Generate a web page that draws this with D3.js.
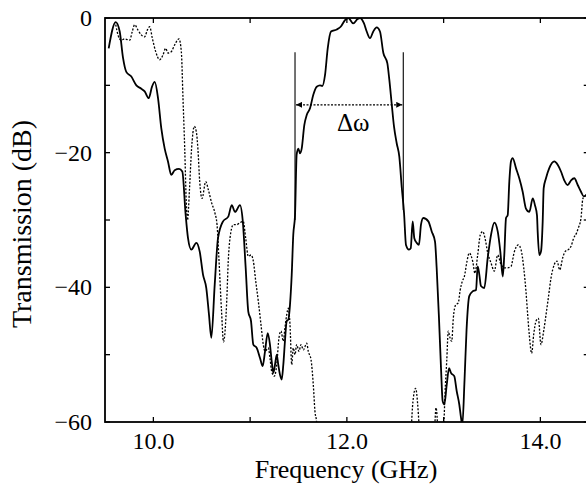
<!DOCTYPE html>
<html>
<head>
<meta charset="utf-8">
<script src="https://cdn.jsdelivr.net/npm/d3@7"></script>
<style>
  body { margin: 0; background: #fff; }
</style>
</head>
<body>
<div id="chart"></div>
<script>
// measured transmission, solid trace
var solidFreq = [9.538, 9.611, 9.652, 9.686, 9.720, 9.772, 9.824, 9.875, 9.910, 9.952,
  9.986, 10.014, 10.048, 10.082, 10.117, 10.151, 10.185, 10.220, 10.265, 10.299,
  10.334, 10.358, 10.392, 10.444, 10.479, 10.513, 10.547, 10.575, 10.599, 10.634,
  10.668, 10.720, 10.774, 10.810, 10.844, 10.895, 10.923, 10.954, 10.981, 11.009,
  11.033, 11.068, 11.102, 11.130, 11.154, 11.182, 11.205, 11.223, 11.240, 11.257,
  11.275, 11.291, 11.309, 11.326, 11.343, 11.360, 11.378, 11.395, 11.412, 11.430,
  11.446, 11.464, 11.481, 11.498, 11.516, 11.533, 11.560, 11.585, 11.619, 11.653,
  11.688, 11.722, 11.746, 11.774, 11.802, 11.836, 11.895, 11.936, 11.981, 12.015,
  12.066, 12.108, 12.136, 12.177, 12.205, 12.239, 12.273, 12.308, 12.342, 12.377,
  12.418, 12.439, 12.463, 12.487, 12.515, 12.542, 12.567, 12.591, 12.611, 12.642,
  12.660, 12.680, 12.697, 12.722, 12.745, 12.766, 12.790, 12.842, 12.877, 12.911,
  12.928, 12.952, 12.973, 12.990, 13.007, 13.032, 13.056, 13.076, 13.110, 13.135,
  13.162, 13.180, 13.193, 13.216, 13.237, 13.265, 13.300, 13.335, 13.352, 13.369,
  13.386, 13.420, 13.456, 13.490, 13.524, 13.559, 13.586, 13.611, 13.627, 13.645,
  13.662, 13.679, 13.696, 13.714, 13.748, 13.782, 13.817, 13.851, 13.886, 13.921,
  13.944, 13.965, 13.972, 13.989, 14.006, 14.024, 14.034, 14.058, 14.092, 14.144,
  14.179, 14.213, 14.247, 14.282, 14.317, 14.351, 14.386, 14.420, 14.448, 14.472, 14.503];
var solidDb = [-4.5, -0.6, -2.0, -5.9, -8.0, -8.7, -10.0, -10.5, -10.9, -11.9,
  -10.2, -9.5, -11.9, -16.4, -19.4, -21.3, -23.3, -22.6, -22.4, -22.8,
  -29.3, -32.7, -34.4, -33.4, -34.7, -38.1, -40.1, -44.1, -47.5, -39.6,
  -32.7, -30.2, -29.5, -27.8, -28.8, -27.8, -30.0, -37.1, -43.6, -45.0,
  -48.5, -49.0, -50.5, -51.7, -49.5, -46.8, -48.5, -51.0, -52.7, -51.5,
  -50.0, -51.5, -53.0, -53.7, -51.5, -48.0, -45.0, -44.8, -42.6, -38.1,
  -32.2, -29.3, -20.3, -19.4, -20.1, -19.4, -15.9, -14.4, -13.4, -11.4,
  -10.2, -10.0, -10.1, -8.5, -4.5, -2.0, -1.7, -1.3, -0.3, 0.0,
  -0.8, -0.2, 0.0, -0.8, -2.0, -3.0, -2.0, -1.4, -2.0, -5.2,
  -6.7, -9.2, -12.7, -16.1, -18.6, -20.6, -25.1, -29.0, -33.7, -34.4,
  -34.2, -30.2, -32.7, -33.4, -33.7, -30.7, -29.7, -30.2, -31.7, -33.2,
  -37.1, -44.6, -52.0, -56.9, -57.4, -54.5, -52.0, -52.7, -53.2, -55.4,
  -57.4, -59.4, -60.5, -53.8, -46.3, -41.3, -40.6, -40.4, -36.9, -38.1,
  -39.8, -40.1, -35.6, -32.2, -30.4, -31.7, -34.7, -38.4, -35.2, -29.7,
  -29.3, -24.3, -21.3, -20.8, -22.3, -23.8, -25.8, -28.3, -28.8, -26.8,
  -27.8, -29.3, -31.7, -35.2, -34.7, -30.2, -25.3, -23.8, -22.3, -21.3,
  -21.8, -22.8, -24.1, -24.8, -24.1, -23.8, -24.8, -25.8, -26.5, -26.3, -26.0];

// dotted trace (values below -60 fall outside the frame)
var dottedFreq = [9.611, 9.634, 9.668, 9.704, 9.755, 9.782, 9.807, 9.841, 9.875, 9.910,
  9.937, 9.962, 9.989, 10.024, 10.065, 10.099, 10.127, 10.151, 10.185, 10.220,
  10.265, 10.289, 10.306, 10.324, 10.340, 10.353, 10.373, 10.394, 10.423, 10.444,
  10.461, 10.479, 10.503, 10.541, 10.568, 10.603, 10.637, 10.658, 10.678, 10.704,
  10.725, 10.758, 10.774, 10.792, 10.826, 10.861, 10.895, 10.929, 10.954, 10.981,
  11.009, 11.033, 11.058, 11.085, 11.112, 11.136, 11.154, 11.188, 11.205, 11.223,
  11.250, 11.275, 11.298, 11.319, 11.343, 11.360, 11.378, 11.395, 11.412, 11.430,
  11.446, 11.464, 11.481, 11.505, 11.526, 11.550, 11.585, 11.601, 11.629, 11.653,
  11.670, 11.688, 11.700, 12.650, 12.663, 12.670, 12.687, 12.711, 12.732, 12.745,
  12.756, 12.901, 12.911, 12.921, 12.935, 12.942, 12.993, 13.004, 13.014, 13.032,
  13.048, 13.066, 13.084, 13.100, 13.125, 13.152, 13.169, 13.193, 13.214, 13.242,
  13.265, 13.300, 13.324, 13.352, 13.379, 13.404, 13.428, 13.456, 13.490, 13.524,
  13.559, 13.593, 13.627, 13.662, 13.696, 13.731, 13.772, 13.800, 13.828, 13.851,
  13.869, 13.885, 13.910, 13.931, 13.955, 13.979, 14.006, 14.034, 14.058, 14.082,
  14.110, 14.144, 14.172, 14.200, 14.231, 14.255, 14.289, 14.317, 14.344, 14.375,
  14.392, 14.420, 14.437, 14.451, 14.472, 14.503];
var dottedDb = [-1.0, -2.5, -3.3, -3.1, -3.3, -2.0, -1.0, -1.8, -2.5, -2.8,
  -1.8, -1.3, -3.0, -5.0, -6.2, -5.5, -4.5, -5.2, -5.0, -4.0,
  -3.1, -5.0, -11.9, -19.4, -27.3, -30.0, -25.5, -19.6, -16.1, -16.9,
  -19.6, -24.3, -26.8, -24.3, -25.5, -27.5, -29.0, -30.7, -35.9, -43.4,
  -48.1, -42.1, -36.1, -32.7, -30.7, -30.7, -30.4, -30.2, -32.7, -35.4,
  -35.2, -36.1, -39.1, -42.1, -45.5, -48.5, -49.5, -49.0, -50.5, -52.5,
  -53.2, -51.5, -47.5, -46.5, -48.0, -46.0, -44.1, -43.1, -45.5, -51.5,
  -49.0, -50.0, -48.5, -49.5, -48.5, -49.3, -48.3, -49.5, -50.7, -54.5,
  -58.4, -60.2, -64, -64, -62.5, -59.9, -56.4, -55.0, -57.4, -60.2,
  -62.7, -62.7, -59.9, -57.9, -59.9, -62.7, -62.7, -59.9, -55.9, -51.0,
  -46.5, -47.5, -48.0, -44.6, -42.6, -42.3, -40.6, -39.1, -38.4, -36.1,
  -34.9, -36.1, -37.9, -35.2, -32.2, -31.7, -32.7, -34.9, -36.4, -37.6,
  -35.2, -36.6, -37.1, -37.1, -36.9, -34.7, -33.7, -34.4, -37.1, -40.6,
  -44.1, -47.0, -49.8, -47.0, -45.0, -44.6, -48.5, -46.5, -44.1, -41.6,
  -38.6, -36.6, -36.1, -37.4, -35.6, -34.7, -34.4, -33.9, -32.7, -31.9,
  -31.2, -29.7, -27.0, -26.5, -26.4, -26.1];

var xMajorTicks = [10, 12, 14];
var xMinorTicks = [11, 13];
var xTickLabels = ['10.0', '12.0', '14.0'];
var yMajorTicks = [0, -20, -40, -60];
var yMinorTicks = [-10, -30, -50];
var yTickLabels = ['0', '\u221220', '\u221240', '\u221260'];

// bandwidth marker
var bandEdges = [11.464, 12.583];
var bandTop = -5.1;
var bandBottoms = [-30.0, -28.5];
var bandArrowLevel = -12.9;
var bandLabel = '\u0394\u03c9';

var width = 586, height = 487;
var margin = {top: 18, left: 105, bottom: 65};
var serif = "'Liberation Serif'";

var svg = d3.select('#chart').append('svg')
  .attr('width', width)
  .attr('height', height);

svg.append('rect').attr('width', width).attr('height', height).attr('fill', '#fff');

var x = d3.scaleLinear().domain([9.5, 14.5]).range([margin.left, margin.left + 483.75]);
var y = d3.scaleLinear().domain([-60, 0]).range([height - margin.bottom, margin.top]);

var defs = svg.append('defs');
defs.append('clipPath').attr('id', 'plot-clip')
  .append('rect')
  .attr('x', x(9.5)).attr('y', y(0))
  .attr('width', x(14.5) - x(9.5)).attr('height', y(-60) - y(0));

defs.append('marker')
  .attr('id', 'arrow')
  .attr('viewBox', '0 0 10 10')
  .attr('refX', 10).attr('refY', 5)
  .attr('markerWidth', 9).attr('markerHeight', 6)
  .attr('markerUnits', 'userSpaceOnUse')
  .attr('orient', 'auto-start-reverse')
  .append('path').attr('d', 'M0,0L10,5L0,10z').attr('fill', '#000');

var line = d3.line()
  .x(function(d) { return x(d[0]); })
  .y(function(d) { return y(d[1]); })
  .curve(d3.curveMonotoneX);

var plot = svg.append('g').attr('clip-path', 'url(#plot-clip)');

plot.append('path')
  .datum(d3.zip(dottedFreq, dottedDb))
  .attr('d', line)
  .attr('fill', 'none')
  .attr('stroke', '#000')
  .attr('stroke-width', 1.3)
  .attr('stroke-dasharray', '2,1.6');

plot.append('path')
  .datum(d3.zip(solidFreq, solidDb))
  .attr('d', line)
  .attr('fill', 'none')
  .attr('stroke', '#000')
  .attr('stroke-width', 1.8);

// bandwidth marker lines
var marks = svg.append('g');
bandEdges.forEach(function(f, i) {
  marks.append('line')
    .attr('x1', x(f)).attr('x2', x(f))
    .attr('y1', y(bandTop)).attr('y2', y(bandBottoms[i]))
    .attr('stroke', '#000').attr('stroke-width', 1.1);
});
marks.append('line')
  .attr('x1', x(bandEdges[0]) + 1).attr('x2', x(bandEdges[1]) - 1)
  .attr('y1', y(bandArrowLevel)).attr('y2', y(bandArrowLevel))
  .attr('stroke', '#000').attr('stroke-width', 1.1)
  .attr('stroke-dasharray', '2,1.5')
  .attr('marker-start', 'url(#arrow)')
  .attr('marker-end', 'url(#arrow)');
marks.append('text')
  .attr('x', x((bandEdges[0] + bandEdges[1]) / 2) + 4)
  .attr('y', y(bandArrowLevel) + 26)
  .attr('text-anchor', 'middle')
  .style('font-family', serif)
  .style('font-size', '25px')
  .text(bandLabel);

// frame
var frame = svg.append('g').attr('stroke', '#000').attr('fill', 'none');
frame.append('rect')
  .attr('x', x(9.5)).attr('y', y(0))
  .attr('width', x(14.5) - x(9.5)).attr('height', y(-60) - y(0))
  .attr('stroke-width', 1.8);

var tickLen = 5;
xMajorTicks.concat(xMinorTicks).forEach(function(t) {
  frame.append('line').attr('x1', x(t)).attr('x2', x(t))
    .attr('y1', y(-60)).attr('y2', y(-60) - tickLen).attr('stroke-width', 1.3);
  frame.append('line').attr('x1', x(t)).attr('x2', x(t))
    .attr('y1', y(0)).attr('y2', y(0) + tickLen).attr('stroke-width', 1.3);
});
yMajorTicks.concat(yMinorTicks).forEach(function(t) {
  frame.append('line').attr('x1', x(9.5)).attr('x2', x(9.5) + tickLen)
    .attr('y1', y(t)).attr('y2', y(t)).attr('stroke-width', 1.3);
  frame.append('line').attr('x1', x(14.5)).attr('x2', x(14.5) - tickLen)
    .attr('y1', y(t)).attr('y2', y(t)).attr('stroke-width', 1.3);
});

// tick labels
svg.append('g').selectAll('text')
  .data(xMajorTicks)
  .enter().append('text')
  .attr('x', function(d) { return x(d); })
  .attr('y', y(-60) + 27)
  .attr('text-anchor', 'middle')
  .style('font-family', serif)
  .style('font-size', '24px')
  .text(function(d, i) { return xTickLabels[i]; });

svg.append('g').selectAll('text')
  .data(yMajorTicks)
  .enter().append('text')
  .attr('x', x(9.5) - 13)
  .attr('y', function(d) { return y(d); })
  .attr('dy', '0.34em')
  .attr('text-anchor', 'end')
  .style('font-family', serif)
  .style('font-size', '24px')
  .text(function(d, i) { return yTickLabels[i]; });

// axis titles
svg.append('text')
  .attr('x', 346)
  .attr('y', 478)
  .attr('text-anchor', 'middle')
  .style('font-family', serif)
  .style('font-size', '26px')
  .text('Frequency (GHz)');

svg.append('text')
  .attr('transform', 'translate(31,224) rotate(-90)')
  .attr('text-anchor', 'middle')
  .style('font-family', serif)
  .style('font-size', '28px')
  .text('Transmission (dB)');
</script>
</body>
</html>
